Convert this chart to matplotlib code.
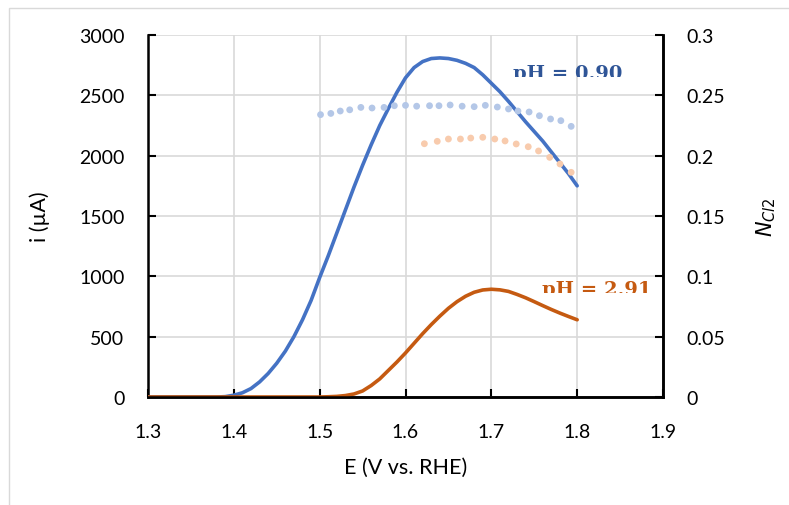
import matplotlib
matplotlib.use('Agg')
import matplotlib.pyplot as plt
from matplotlib.patches import Rectangle
from matplotlib.transforms import Bbox, TransformedBbox

plt.rcParams['font.family'] = ['Lato', 'DejaVu Sans']

# current, pH 0.90 (blue) and pH 2.91 (orange)
E = [1.30, 1.32, 1.34, 1.36, 1.37, 1.38, 1.39, 1.40, 1.41, 1.42, 1.43, 1.44, 1.45, 1.46, 1.47,
     1.48, 1.49, 1.50, 1.51, 1.52, 1.53, 1.54, 1.55, 1.56, 1.57, 1.58, 1.59, 1.60, 1.61,
     1.62, 1.63, 1.64, 1.65, 1.66, 1.67, 1.68, 1.69, 1.70, 1.71, 1.72, 1.73, 1.74, 1.75,
     1.76, 1.77, 1.78, 1.79, 1.80]
i_090 = [0, 0, 0, 0, 0, 0, 3, 15, 35, 70, 125, 195, 280, 380, 500,
         640, 800, 990, 1170, 1360, 1550, 1740, 1920, 2090, 2250, 2390, 2525, 2645, 2730,
         2780, 2805, 2810, 2805, 2790, 2765, 2730, 2670, 2600, 2530, 2450, 2365, 2280, 2200,
         2120, 2030, 1940, 1850, 1750]
i_291 = [0, 0, 0, 0, 0, 0, 0, 0, 0, 0, 0, 0, 0, 0, 0,
         0, 0, 0, 2, 5, 12, 25, 50, 95, 150, 220, 290, 365, 445,
         525, 600, 670, 735, 790, 835, 868, 887, 893, 888, 875, 850, 822, 790,
         757, 725, 695, 667, 640]

# Cl2 efficiency (dots)
E_n090 = [1.501, 1.513, 1.524, 1.535, 1.548, 1.561, 1.575, 1.587, 1.600, 1.613, 1.628, 1.639,
          1.652, 1.666, 1.680, 1.693, 1.707, 1.720, 1.731, 1.744, 1.756, 1.769, 1.781, 1.793]
n_090 = [0.234, 0.235, 0.237, 0.238, 0.240, 0.2395, 0.240, 0.2414, 0.2417, 0.241, 0.2414, 0.2414,
         0.242, 0.241, 0.2406, 0.2417, 0.2403, 0.2387, 0.237, 0.2362, 0.2331, 0.2304, 0.229, 0.2243]
E_n291 = [1.622, 1.637, 1.650, 1.664, 1.676, 1.690, 1.704, 1.716, 1.729, 1.743, 1.755, 1.768, 1.780, 1.793]
n_291 = [0.2099, 0.2119, 0.2138, 0.2138, 0.2146, 0.2152, 0.2138, 0.2122, 0.2097, 0.2074, 0.2039,
         0.1986, 0.1931, 0.1862]

fig = plt.figure(figsize=(7.89, 5.06), dpi=100)
ax = fig.add_axes([148/789, 1 - 398/506, (663 - 148)/789, (398 - 36)/506])
ax2 = ax.twinx()

ax.plot(E, i_090, color='#4472C4', lw=2.6, zorder=3, solid_capstyle='round')
ax.plot(E, i_291, color='#C55A11', lw=2.6, zorder=3, solid_capstyle='round')
ax2.scatter(E_n090, n_090, s=24, color='#B4C7E7', edgecolors='none', zorder=2)
ax2.scatter(E_n291, n_291, s=24, color='#F8CBAD', edgecolors='none', zorder=2)

ax.set_xlim(1.3, 1.9)
ax.set_ylim(0, 3000)
ax2.set_ylim(0, 0.3)
ax.set_xticks([1.3, 1.4, 1.5, 1.6, 1.7, 1.8, 1.9])
ax.set_yticks(range(0, 3001, 500))
ax2.set_yticks([0, 0.05, 0.1, 0.15, 0.2, 0.25, 0.3])
ax2.set_yticklabels(['0', '0.05', '0.1', '0.15', '0.2', '0.25', '0.3'])

ax.grid(True, color='#D9D9D9', lw=1.2)
ax.set_axisbelow(True)
for a in (ax, ax2):
    a.spines['top'].set_visible(False)
    for s in ('left', 'right', 'bottom'):
        a.spines[s].set_linewidth(1.8)
    a.tick_params(direction='in', length=6, width=1.5, labelsize=14, pad=17)
ax.tick_params(axis='x', pad=19)
ax2.spines['left'].set_visible(False)

ax.set_xlabel('E (V vs. RHE)', fontsize=15.5)
ax.set_ylabel('i (\u00b5A)', fontsize=15.5)
ax2.set_ylabel('$N_{Cl2}$', fontsize=15)
ax.xaxis.set_label_coords(0.5, -0.165)
ax.yaxis.set_label_coords(-0.19, 0.5)
ax2.yaxis.set_label_coords(1.178, 0.5)

# labels are cut off at the bottom in the original
t1 = ax.text(1.7254, 2645, 'pH = 0.90', color='#2F5597', fontsize=14, fontweight='bold',
             family='DejaVu Serif', ha='left', va='baseline', clip_on=True)
t1.set_clip_box(TransformedBbox(Bbox([[1.3, 2652], [1.9, 3000]]), ax.transData))
t2 = ax.text(1.7589, 856, 'pH = 2.91', color='#C55A11', fontsize=14, fontweight='bold',
             family='DejaVu Serif', ha='left', va='baseline', clip_on=True)
t2.set_clip_box(TransformedBbox(Bbox([[1.3, 862], [1.9, 1100]]), ax.transData))

fig.patches.append(Rectangle((9/789, -0.1), 1.2, 1.1 - 9/506, transform=fig.transFigure,
                             fill=False, edgecolor='#D9D9D9', lw=1))

fig.savefig('out.png', dpi=100)
